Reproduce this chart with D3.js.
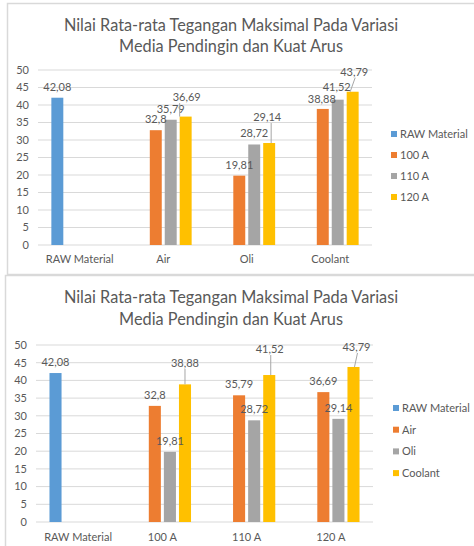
<!DOCTYPE html>
<html>
<head>
<meta charset="utf-8">
<script src="https://cdn.jsdelivr.net/npm/d3@7"></script>
<style>
  body { margin: 0; background: #fff; }
  svg { display: block; font-family: Lato, "Open Sans", sans-serif; }
</style>
</head>
<body>
<svg id="chart" width="474" height="546"></svg>
<script>
// data
var rawMaterial = 42.08;
var kuatArus = ["100 A", "110 A", "120 A"];
var media = ["Air", "Oli", "Coolant"];
var teganganAir = [32.8, 35.79, 36.69];
var teganganOli = [19.81, 28.72, 29.14];
var teganganCoolant = [38.88, 41.52, 43.79];
var yTicks = [0, 5, 10, 15, 20, 25, 30, 35, 40, 45, 50];
var titleLines = ["Nilai Rata-rata Tegangan Maksimal Pada Variasi", "Media Pendingin dan Kuat Arus"];

var colors = ["#5B9BD5", "#ED7D31", "#A5A5A5", "#FFC000"];
var textColor = "#595959";

var byMedia = [teganganAir, teganganOli, teganganCoolant];

// chart 1: categories = media, series = kuat arus
var chart1 = {
	categories: ["RAW Material"].concat(media),
	series: ["RAW Material"].concat(kuatArus),
	value: function(s, c) {
		if (s == 0) return c == 0 ? rawMaterial : null;
		if (c == 0) return null;
		return byMedia[c - 1][s - 1];
	},
	frame: { x: 7, y: 3, h: 271 },
	titleY: [25, 46],
	plot: { left: 38, right: 372, top: 70, bottom: 245 },
	tickX: 29, catY: 259,
	legend: { x: 391, y: 134, step: 21 },
	// labels that were dragged in the original, with their leader lines
	nudge: {
		"120 A|Air": { dx: 1, dy: -19.5, lead: [-7, -6] },
		"120 A|Oli": { dx: -2, dy: -26, lead: [4, 2] },
		"100 A|Coolant": { dx: -1, dy: -9.5 },
		"110 A|Coolant": { dx: -1, dy: -13 },
		"120 A|Coolant": { dx: 1.5, dy: -20, lead: [1, -2.5] }
	}
};

// chart 2: categories = kuat arus, series = media
var chart2 = {
	categories: ["RAW Material"].concat(kuatArus),
	series: ["RAW Material"].concat(media),
	value: function(s, c) {
		if (s == 0) return c == 0 ? rawMaterial : null;
		if (c == 0) return null;
		return byMedia[s - 1][c - 1];
	},
	frame: { x: 5, y: 275, h: 300 },
	titleY: [297, 319],
	plot: { left: 36, right: 373, top: 345, bottom: 522 },
	tickX: 27, catY: 537,
	legend: { x: 393, y: 408, step: 21.7 },
	nudge: {
		"Coolant|100 A": { dx: 0, dy: -21.5, lead: [0, 0] },
		"Coolant|110 A": { dx: 0.5, dy: -26, lead: [1, 1.5] },
		"Coolant|120 A": { dx: 3, dy: -20, lead: [1, 1] }
	}
};

function fmt(v)
{
	return String(v).replace(".", ",");
}

function drawChart(svg, cfg)
{
	var g = svg.append("g");
	g.append("rect")
		.attr("x", cfg.frame.x + 0.5).attr("y", cfg.frame.y + 0.5)
		.attr("width", 480).attr("height", cfg.frame.h)
		.attr("fill", "#fff").attr("stroke", "#D9D9D9").attr("stroke-width", 1.5);

	g.selectAll("text.title").data(titleLines).enter().append("text")
		.attr("class", "title")
		.attr("x", 231).attr("y", (d, i) => cfg.titleY[i])
		.attr("dy", "0.35em").attr("text-anchor", "middle")
		.attr("font-size", 16.3).attr("fill", textColor)
		.text(d => d);

	var y = d3.scaleLinear().domain([0, 50]).range([cfg.plot.bottom, cfg.plot.top]);
	var x0 = d3.scaleBand().domain(cfg.categories)
		.range([cfg.plot.left, cfg.plot.right]).paddingInner(0.32).paddingOuter(0.16);
	var x1 = d3.scaleBand().domain(cfg.series)
		.range([0, x0.bandwidth()]).paddingInner(0.2);

	g.selectAll("line.grid").data(yTicks).enter().append("line")
		.attr("x1", cfg.plot.left).attr("x2", cfg.plot.right)
		.attr("y1", d => y(d)).attr("y2", d => y(d))
		.attr("stroke", "#D9D9D9").attr("stroke-width", 1);

	g.selectAll("text.tick").data(yTicks).enter().append("text")
		.attr("x", cfg.tickX).attr("y", d => y(d)).attr("dy", "0.35em")
		.attr("text-anchor", "end").attr("font-size", 11).attr("fill", textColor)
		.text(d => d);

	g.selectAll("text.cat").data(cfg.categories).enter().append("text")
		.attr("x", d => x0(d) + x0.bandwidth() / 2).attr("y", cfg.catY).attr("dy", "0.35em")
		.attr("text-anchor", "middle").attr("font-size", 11).attr("fill", textColor)
		.text(d => d);

	var bars = [];
	cfg.series.forEach(function(s, si) {
		cfg.categories.forEach(function(c, ci) {
			var v = cfg.value(si, ci);
			if (v != null) bars.push({ s: s, si: si, c: c, v: v });
		});
	});

	g.selectAll("rect.bar").data(bars).enter().append("rect")
		.attr("x", d => x0(d.c) + x1(d.s))
		.attr("y", d => y(d.v))
		.attr("width", x1.bandwidth())
		.attr("height", d => y(0) - y(d.v))
		.attr("fill", d => colors[d.si]);

	bars.forEach(function(d) {
		var bx = x0(d.c) + x1(d.s) + x1.bandwidth() / 2;
		var n = cfg.nudge[d.s + "|" + d.c] || { dx: 0, dy: -11 };
		var lx = bx + n.dx, ly = y(d.v) + n.dy;
		if (n.lead)
		{
			g.append("line")
				.attr("x1", lx + n.lead[0]).attr("y1", ly + 6)
				.attr("x2", bx + n.lead[1]).attr("y2", y(d.v))
				.attr("stroke", "#A6A6A6").attr("stroke-width", 1);
		}
		g.append("text")
			.attr("x", lx).attr("y", ly).attr("dy", "0.35em")
			.attr("text-anchor", "middle").attr("font-size", 11).attr("fill", textColor)
			.text(fmt(d.v));
	});

	var leg = g.selectAll("g.legend").data(cfg.series).enter().append("g")
		.attr("transform", (d, i) => "translate(" + cfg.legend.x + "," + (cfg.legend.y + i * cfg.legend.step) + ")");
	leg.append("rect").attr("x", 0).attr("y", -3).attr("width", 6).attr("height", 6)
		.attr("fill", (d, i) => colors[i]);
	leg.append("text").attr("x", 9).attr("y", 0).attr("dy", "0.35em")
		.attr("font-size", 11).attr("fill", textColor).text(d => d);
}

var svg = d3.select("#chart");
drawChart(svg, chart1);
drawChart(svg, chart2);
</script>
</body>
</html>
